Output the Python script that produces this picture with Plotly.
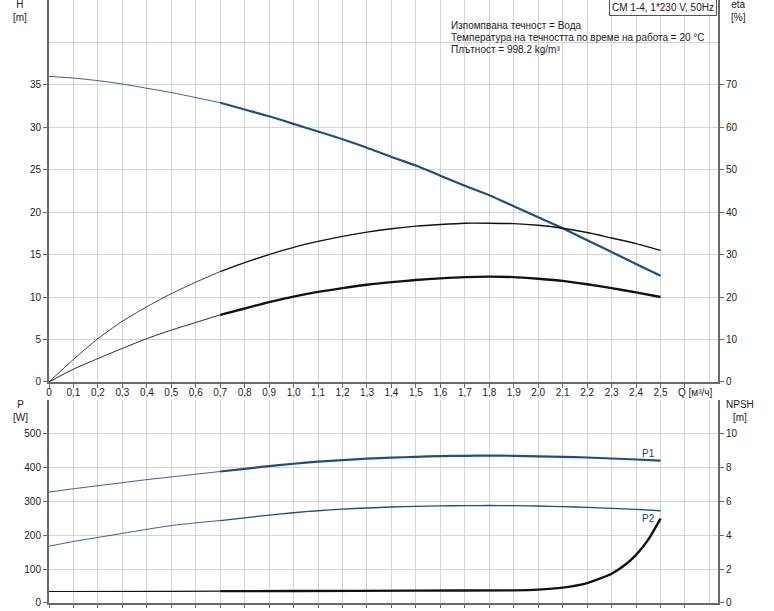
import plotly.graph_objects as go

# ---------------- data ----------------
Q = [0.0, 0.1, 0.2, 0.3, 0.4, 0.5, 0.6, 0.7, 0.8, 0.9, 1.0, 1.1, 1.2,
     1.3, 1.4, 1.5, 1.6, 1.7, 1.8, 1.9, 2.0, 2.1, 2.2, 2.3, 2.4, 2.5]
H = [36.0, 35.8, 35.5, 35.1, 34.6, 34.1, 33.5, 32.9, 32.1, 31.3, 30.4, 29.5, 28.6,
     27.6, 26.5, 25.5, 24.3, 23.1, 22.0, 20.7, 19.4, 18.1, 16.7, 15.3, 13.9, 12.5]
ETA_PUMP = [0.0, 5.3, 10.2, 14.3, 17.7, 20.8, 23.5, 26.0, 28.1, 30.0, 31.7, 33.1, 34.3,
            35.3, 36.1, 36.7, 37.1, 37.4, 37.4, 37.3, 36.9, 36.2, 35.2, 33.9, 32.6, 31.0]
ETA_TOTAL = [0.0, 3.0, 5.5, 7.9, 10.2, 12.2, 14.0, 15.8, 17.3, 18.8, 20.1, 21.2, 22.1,
             22.9, 23.5, 24.0, 24.4, 24.7, 24.8, 24.7, 24.3, 23.8, 23.0, 22.1, 21.1, 20.0]
P1 = [328, 338, 347, 356, 365, 373, 381, 389, 397, 405, 412, 418, 423,
      427, 430, 432.5, 434.5, 435.5, 436, 435.5, 434, 432.5, 430.5, 427.5, 424.5, 421.5]
P2 = [168, 182, 194, 206, 218, 229, 237, 244, 252, 260, 267, 273, 278,
      281, 284, 286, 287.5, 288, 288.5, 288, 287, 285, 283, 280, 277, 273]
Q_NPSH = [0.0, 0.5, 0.7, 1.0, 1.5, 1.9, 2.0, 2.1, 2.2, 2.3, 2.35, 2.4, 2.45, 2.5]
NPSH = [0.68, 0.69, 0.70, 0.71, 0.73, 0.75, 0.79, 0.91, 1.18, 1.73, 2.2, 2.85, 3.75, 4.99]

X_TICKVALS = [0.0, 0.1, 0.2, 0.3, 0.4, 0.5, 0.6, 0.7, 0.8, 0.9, 1.0, 1.1, 1.2, 1.3,
              1.4, 1.5, 1.6, 1.7, 1.8, 1.9, 2.0, 2.1, 2.2, 2.3, 2.4, 2.5, 2.6]
X_TICKTEXT = ["0", "0,1", "0,2", "0,3", "0,4", "0,5", "0,6", "0,7", "0,8", "0,9",
              "1,0", "1,1", "1,2", "1,3", "1,4", "1,5", "1,6", "1,7", "1,8", "1,9",
              "2,0", "2,1", "2,2", "2,3", "2,4", "2,5", ""]
X_UNIT_LABEL = "Q [м³/ч]"
H_TICKS = [0, 5, 10, 15, 20, 25, 30, 35]
ETA_TICKS = [0, 10, 20, 30, 40, 50, 60, 70]
P_TICKS = [0, 100, 200, 300, 400, 500]
NPSH_TICKS = [0, 2, 4, 6, 8, 10]

INFO_LINES = ["Изпомпвана течност = Вода",
              "Температура на течността по време на работа = 20 °C",
              "Плътност = 998.2 kg/m³"]
TITLE_BOX = "CM 1-4, 1*230 V, 50Hz"

# ---------------- style ----------------
W, HGT = 774, 611
L, R = 49, 718.5
BOT = 602.7
FONT = "Liberation Sans, Arial, sans-serif"
BLUE = "#1f4e80"
GRID = "#d4d4d4"
AXC = "#6a6a6a"
TXT = "#222222"
SPLIT = 7  # index of Q = 0.7 where curves become thick


def px(xp):
    return (xp - L) / (R - L)


def py(yp):
    return (BOT - yp) / BOT


fig = go.Figure()


def add_curve(x, y, color, w_thin, w_thick, xa, ya, split=SPLIT):
    fig.add_trace(go.Scatter(x=x[:split + 1], y=y[:split + 1], mode="lines",
                             line=dict(color=color, width=w_thin, shape="spline", smoothing=0.6),
                             xaxis=xa, yaxis=ya, showlegend=False, hoverinfo="skip"))
    fig.add_trace(go.Scatter(x=x[split:], y=y[split:], mode="lines",
                             line=dict(color=color, width=w_thick, shape="spline", smoothing=0.6),
                             xaxis=xa, yaxis=ya, showlegend=False, hoverinfo="skip"))


# top plot
add_curve(Q, ETA_PUMP, "#111111", 0.8, 1.4, "x", "y2")
add_curve(Q, ETA_TOTAL, "#111111", 0.9, 2.4, "x", "y2")
add_curve(Q, H, BLUE, 0.9, 2.2, "x", "y")
# bottom plot
add_curve(Q, P1, BLUE, 0.9, 2.2, "x2", "y3")
add_curve(Q, P2, BLUE, 0.9, 1.3, "x2", "y3")
add_curve(Q_NPSH, NPSH, "#111111", 1.2, 2.4, "x2", "y4", split=2)

top_dom = [py(381.7), 1.0]
bot_dom = [0.0, py(400.0)]

tickfont = dict(family=FONT, size=10, color=TXT)
common_axis = dict(showline=True, linecolor=AXC, linewidth=2, ticks="outside",
                   tickcolor=AXC, tickfont=tickfont, zeroline=False)

fig.update_layout(
    width=W, height=HGT,
    margin=dict(l=L, r=W - R, t=0, b=HGT - BOT, autoexpand=False),
    paper_bgcolor="white", plot_bgcolor="white",
    font=dict(family=FONT, size=10, color=TXT),
    xaxis=dict(domain=[0, 1], anchor="y", range=[0, 2.735],
               tickmode="array", tickvals=X_TICKVALS, ticktext=X_TICKTEXT, tickangle=0,
               ticklabelstandoff=-4,
               ticklen=4, showgrid=True, gridcolor=GRID, gridwidth=1,
               minor=dict(tickvals=[2.7], showgrid=True, gridcolor=GRID, ticks=""),
               **common_axis),
    yaxis=dict(domain=top_dom, anchor="x", range=[0, 45],
               tickmode="array", tickvals=H_TICKS, ticklen=4,
               showgrid=True, gridcolor=GRID, gridwidth=1,
               minor=dict(tickvals=[40, 45], showgrid=True, gridcolor=GRID, ticks=""),
               **common_axis),
    yaxis2=dict(overlaying="y", side="right", anchor="x", range=[0, 90],
                tickmode="array", tickvals=ETA_TICKS, ticklen=4, showgrid=False,
                **common_axis),
    xaxis2=dict(domain=[0, 1], anchor="y3", range=[0, 2.735], matches="x",
                tickmode="array", tickvals=X_TICKVALS, showticklabels=False, ticklen=3,
                showgrid=True, gridcolor=GRID, gridwidth=1,
                minor=dict(tickvals=[2.7], showgrid=True, gridcolor=GRID, ticks=""),
                **common_axis),
    yaxis3=dict(domain=bot_dom, anchor="x2", range=[0, 600],
                tickmode="array", tickvals=P_TICKS, ticklen=4,
                showgrid=True, gridcolor=GRID, gridwidth=1,
                minor=dict(tickvals=[600], showgrid=True, gridcolor="#bcbcbc", ticks=""),
                **common_axis),
    yaxis4=dict(overlaying="y3", side="right", anchor="x2", range=[0, 12],
                tickmode="array", tickvals=NPSH_TICKS, ticklen=4, showgrid=False,
                **common_axis),
)

lab = dict(family=FONT, size=10, color=TXT)
ann = []
for text, xp_, yp_ in [("H<br>[m]", 20, 11), ("eta<br>[%]", 739, 11),
                       ("P<br>[W]", 20, 411), ("NPSH<br>[m]", 741, 411)]:
    ann.append(dict(x=px(xp_), y=py(yp_), xref="paper", yref="paper", text=text,
                    xanchor="center", yanchor="middle", showarrow=False, font=lab))
for i, line in enumerate(INFO_LINES):
    ann.append(dict(x=px(449), y=py(25 + 12 * i), xref="paper", yref="paper", text=line,
                    xanchor="left", yanchor="middle", showarrow=False, font=lab))
ann.append(dict(x=px(717), y=py(-1), xref="paper", yref="paper", text=TITLE_BOX,
                xanchor="right", yanchor="top", showarrow=False,
                bordercolor="#555555", borderwidth=1, borderpad=2, bgcolor="white",
                font=lab))
ann.append(dict(x=px(696), y=py(392), xref="paper", yref="paper", text=X_UNIT_LABEL,
                xanchor="center", yanchor="middle", showarrow=False,
                font=dict(family=FONT, size=10, color=TXT)))
ann.append(dict(x=2.45, y=441, xref="x2", yref="y3", text="P1", showarrow=False,
                xanchor="center", yanchor="middle",
                font=dict(family=FONT, size=10, color="#1f3f66")))
ann.append(dict(x=2.45, y=250, xref="x2", yref="y3", text="P2", showarrow=False,
                xanchor="center", yanchor="middle",
                font=dict(family=FONT, size=10, color="#1f3f66")))
fig.update_layout(annotations=ann)

# the page body has a default 8px margin; remove it so the figure fills the window
fig.write_html("out.html", config={"displayModeBar": False},
               post_script="document.body.style.margin='0';")
